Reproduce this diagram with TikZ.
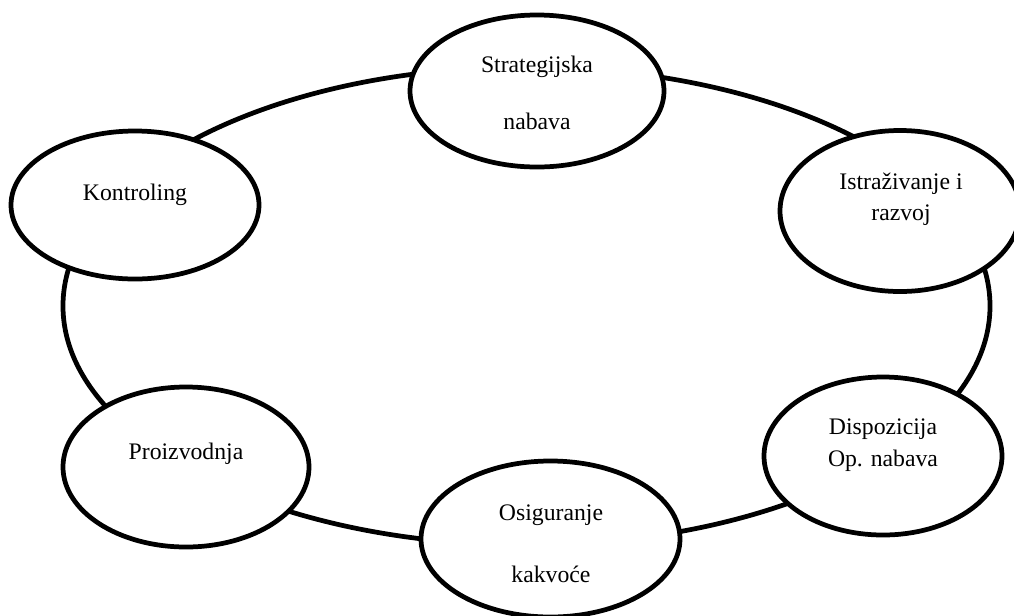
\documentclass[tikz,border=0pt]{standalone}
\usepackage{fontspec}
\setmainfont{Liberation Serif}
\usetikzlibrary{shapes.geometric}

\begin{document}
\begin{tikzpicture}[x=0.2mm, y=-0.2mm, line width=2.7pt,
  oval/.style={draw=black, fill=white, ellipse, inner sep=0pt},
  txt/.style={align=center, inner sep=0pt, font=\fontsize{13.5}{16}\selectfont}]
\useasboundingbox (0,0) rectangle (1014,615);
% ring behind the ovals
\draw [black] (526.5,306) ellipse [x radius=92.7mm, y radius=47.8mm];
% ovals
\node [oval, minimum width=50.8mm, minimum height=30.4mm] (strat) at (537,91) {};
\node [oval, minimum width=48mm, minimum height=32.2mm] (istr) at (900,211) {};
\node [oval, minimum width=47.6mm, minimum height=31.6mm] (disp) at (883,456) {};
\node [oval, minimum width=51.8mm, minimum height=31.2mm] (osig) at (550.5,539) {};
\node [oval, minimum width=49.2mm, minimum height=32mm] (proiz) at (186,467) {};
\node [oval, minimum width=49.6mm, minimum height=29.6mm] (kontr) at (135,205) {};
% texts
\node [txt] (strat-t) at (537,92.5) {Strategijska\\[16.4pt]nabava};
\node [txt] (istr-t) at (901,199) {Istraživanje i\\[1.6pt]razvoj};
\node [txt] (disp-t) at (883,445.5) {Dispozicija\\[2.2pt]Op. nabava};
\node [txt] (osig-t) at (551,544) {Osiguranje\\[19.3pt]kakvoće};
\node [txt] (proiz-t) at (186,453.5) {Proizvodnja};
\node [txt] (kontr-t) at (135,194.5) {Kontroling};
\end{tikzpicture}
\end{document}
